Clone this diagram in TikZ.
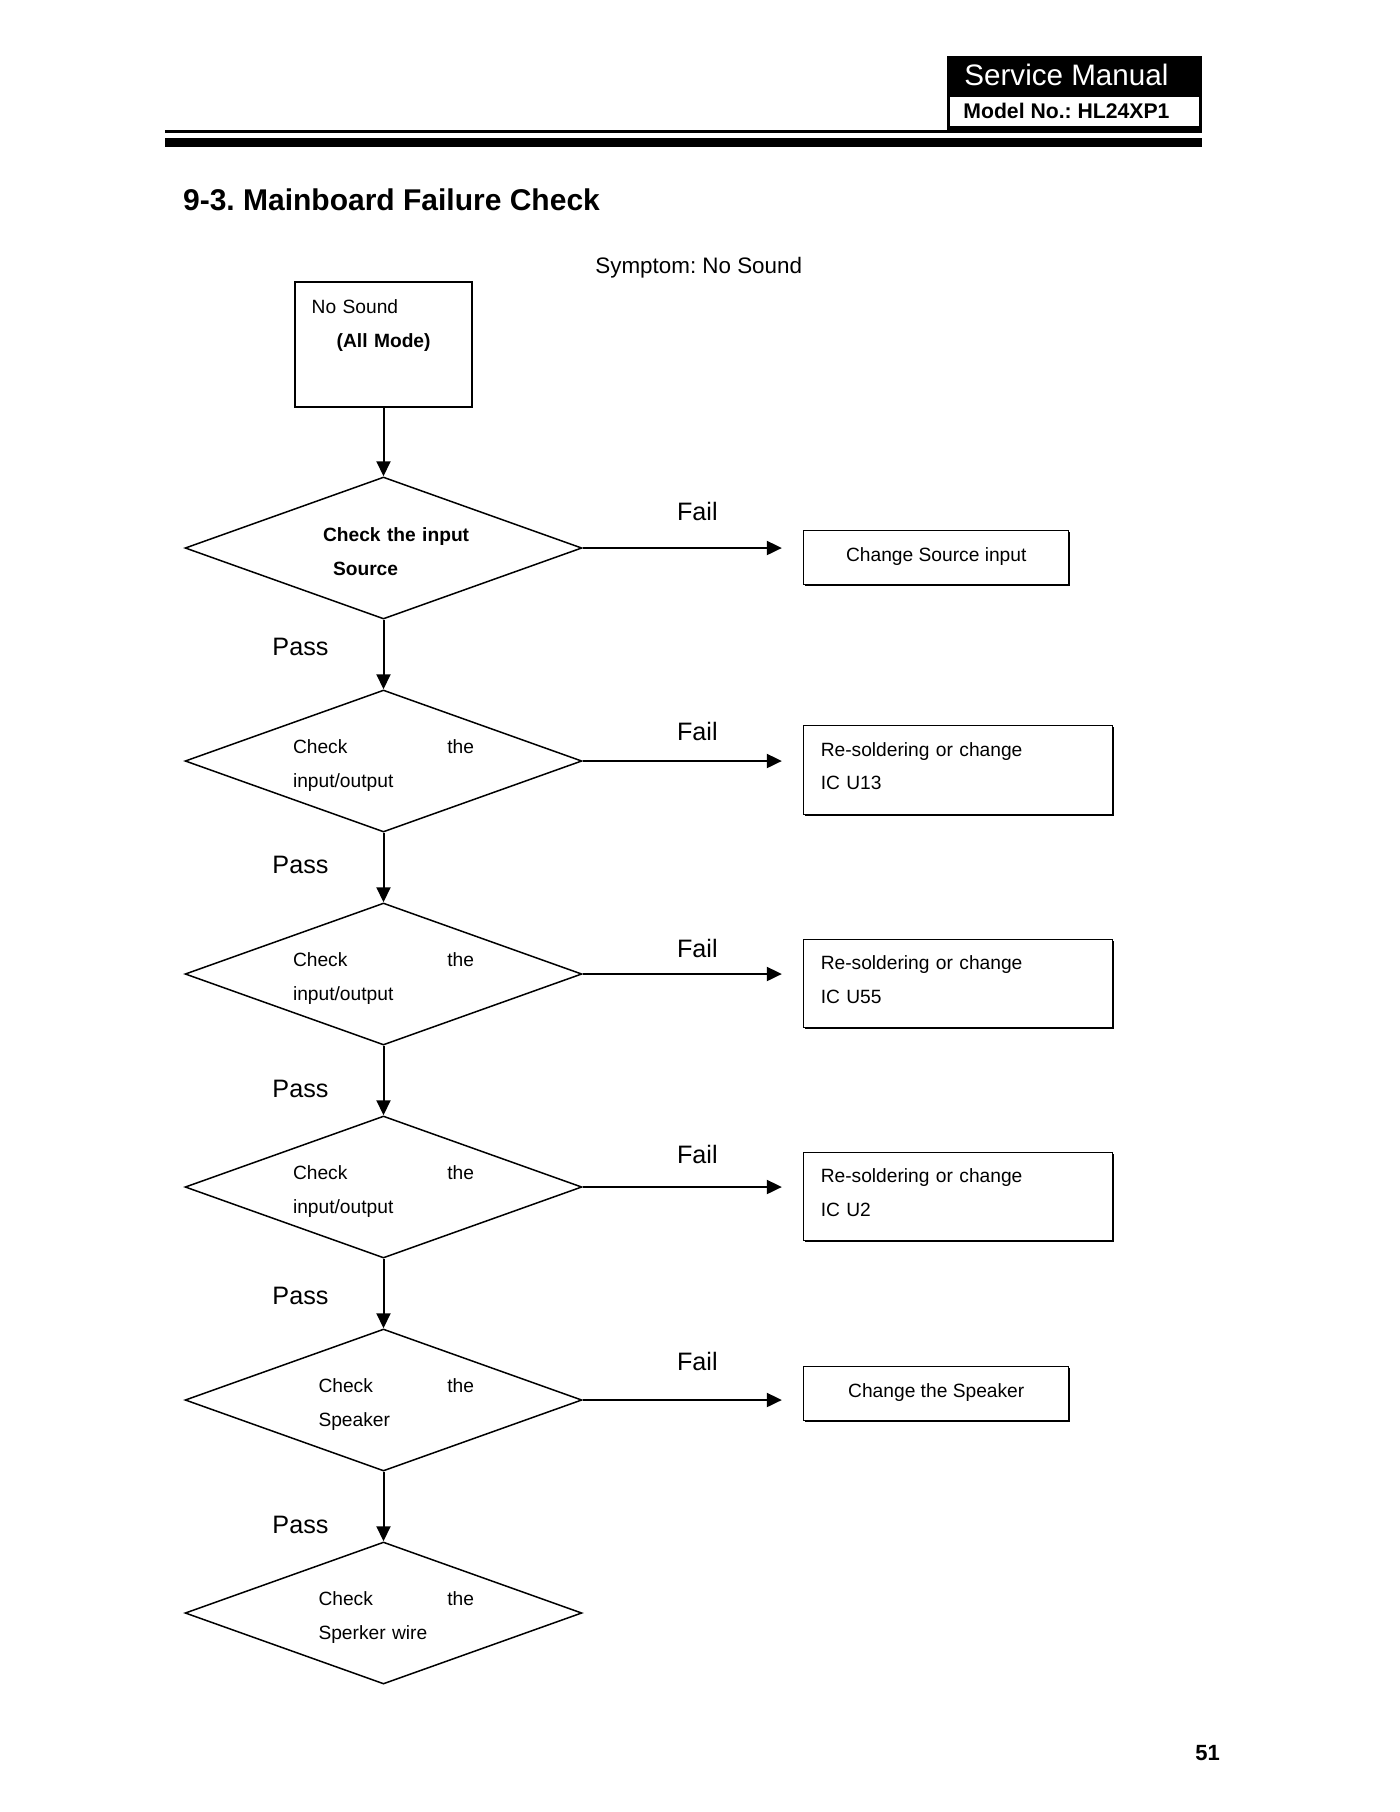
\documentclass[tikz,border=0pt]{standalone}
\usepackage{fontspec}
\setmainfont{Liberation Sans}
\usepackage{xcolor}
\usepackage{tikz}
\usetikzlibrary{shapes.geometric, arrows.meta, positioning, shadows, calc}
\tikzstyle{arrow} = [line width=1pt,-{Triangle[length=7.5pt,width=7pt]}]
\tikzstyle{startbox} = [rectangle, draw=black, line width=0.65pt, inner sep=0pt, minimum width=88.5pt, minimum height=62.5pt, text width=71.8pt, align=left, font=\fontsize{9.6}{17}\selectfont]
\tikzstyle{check} = [diamond, aspect=2.8, draw=black, line width=0.75pt, inner sep=0pt, minimum width=198.4pt, minimum height=71pt, text width=90.5pt, align=left, font=\fontsize{9.6}{17}\selectfont]
\tikzstyle{action} = [rectangle, draw=black, line width=0.5pt, fill=white, inner sep=0pt, minimum width=132.5pt, minimum height=27pt, align=center, font=\fontsize{9.6}{16.65}\selectfont, drop shadow={shadow xshift=0.75pt, shadow yshift=-0.75pt, fill=black, opacity=1}]
\tikzstyle{repair} = [action, minimum width=154.35pt, minimum height=44.15pt, text width=137.35pt, align=left]
\tikzstyle{verdict} = [inner sep=0pt, font=\fontsize{12.6}{15}\selectfont]
\tikzstyle{plain} = [inner sep=0pt, anchor=base west]
\newcommand{\dmdstrut}{\rule{0pt}{11pt}}

\begin{document}
\frenchspacing
\begin{tikzpicture}[x=0.5pt, y=-0.5pt, node distance=34.75pt]
    \useasboundingbox (0,0) rectangle (1400,1812);
    % Header
    \fill (947,56) rectangle (1202,133);
    \fill[white] (950,97) rectangle (1199,126);
    \draw[line width=1.5pt] (165,131) -- (947,131);
    \fill (165,138.3) rectangle (1202,147.3);
    \node[plain, text=white, font=\fontsize{14.8}{17}\selectfont] (manual) at (964,85) {Service Manual};
    \node[plain, font=\fontsize{10.6}{13}\selectfont\bfseries] (model) at (963,118) {Model No.: HL24XP1};
    \node[plain, font=\fontsize{15}{18}\selectfont\bfseries] (title) at (182.7,210) {9-3. Mainboard Failure Check};
    \node[plain, font=\fontsize{11.2}{13}\selectfont] (symptom) at (595,273) {Symptom: No Sound};
    \node[plain, font=\fontsize{11}{13}\selectfont\bfseries] (page) at (1195,1760) {51};

    % Checks
    \node[startbox] (nosound) at (383.5,344.5) {No Sound\\\hspace*{12.5pt}\textbf{(All Mode)}\rule[-20.5pt]{0pt}{0pt}};
    \node[check, below=34.3pt of nosound] (source) {\bfseries\dmdstrut\hspace*{15pt}Check the input\\\hspace*{20pt}Source};
    \node[check, below=of source] (u13) {\dmdstrut Check\hspace{\fill}the\\input/output};
    \node[check, below=of u13] (u55) {\dmdstrut Check\hspace{\fill}the\\input/output};
    \node[check, below=of u55] (u2) {\dmdstrut Check\hspace{\fill}the\\input/output};
    \node[check, below=of u2] (speaker) {\dmdstrut\hspace*{12.75pt}Check\hspace{\fill}the\\\hspace*{12.75pt}Speaker};
    \node[check, below=of speaker] (wire) {\dmdstrut\hspace*{12.75pt}Check\hspace{\fill}the\\\hspace*{12.75pt}Sperker wire};

    % Results
    \node[action, right=110.3pt of source, yshift=-4.5pt] (newsource) {Change Source input};
    \node[repair, right=110.3pt of u13, yshift=-4.5pt] (fixu13) {Re-soldering or change\\IC U13\rule[-4pt]{0pt}{0pt}};
    \node[repair, right=110.3pt of u55, yshift=-4.8pt] (fixu55) {Re-soldering or change\\IC U55\rule[-4pt]{0pt}{0pt}};
    \node[repair, right=110.3pt of u2, yshift=-4.8pt] (fixu2) {Re-soldering or change\\IC U2\rule[-4pt]{0pt}{0pt}};
    \node[action, right=110.3pt of speaker, yshift=3.5pt] (newspeaker) {Change the Speaker};

    % Flow
    \draw[arrow] (nosound) -- (source);
    \draw[arrow] (source) -- node[verdict, pos=0.39, left=27pt] {Pass} (u13);
    \draw[arrow] (u13) -- node[verdict, pos=0.47, left=27pt] {Pass} (u55);
    \draw[arrow] (u55) -- node[verdict, pos=0.62, left=27pt] {Pass} (u2);
    \draw[arrow] (u2) -- node[verdict, pos=0.54, left=27pt] {Pass} (speaker);
    \draw[arrow] (speaker) -- node[verdict, pos=0.76, left=27pt] {Pass} (wire);
    \draw[arrow, shorten >=10.7pt] (source.east) -- node[verdict, pos=0.52, above=13pt] {Fail} (source.east -| newsource.west);
    \draw[arrow, shorten >=10.7pt] (u13.east) -- node[verdict, pos=0.52, above=9.5pt] {Fail} (u13.east -| fixu13.west);
    \draw[arrow, shorten >=10.7pt] (u55.east) -- node[verdict, pos=0.52, above=7.5pt] {Fail} (u55.east -| fixu55.west);
    \draw[arrow, shorten >=10.7pt] (u2.east) -- node[verdict, pos=0.52, above=11pt] {Fail} (u2.east -| fixu2.west);
    \draw[arrow, shorten >=10.7pt] (speaker.east) -- node[verdict, pos=0.52, above=14pt] {Fail} (speaker.east -| newspeaker.west);

\end{tikzpicture}
\end{document}
